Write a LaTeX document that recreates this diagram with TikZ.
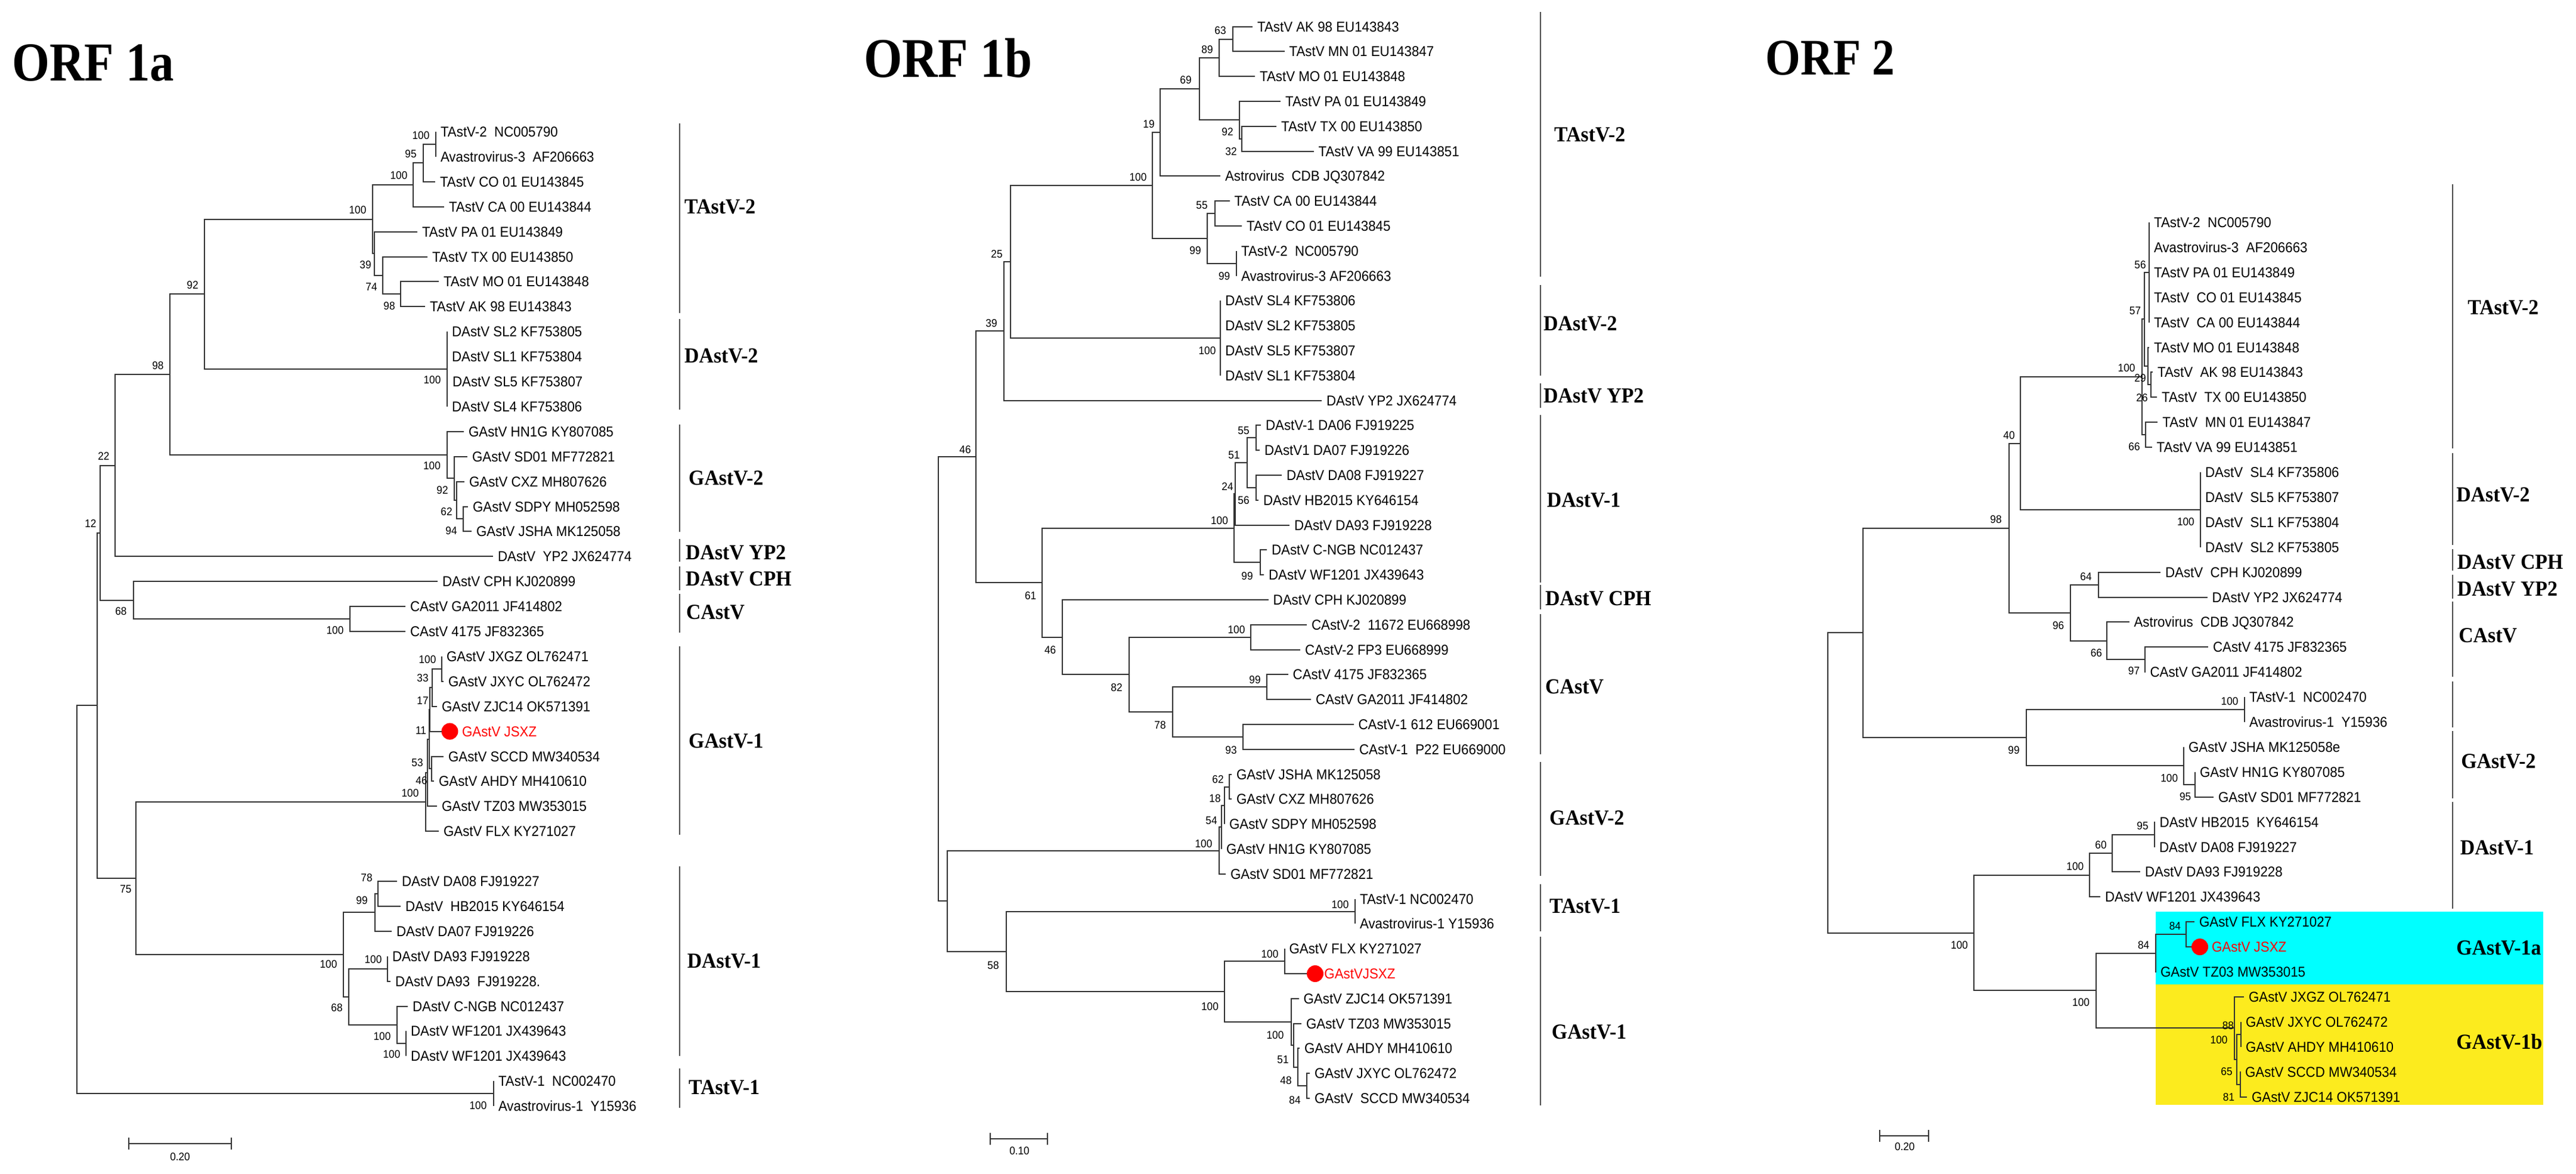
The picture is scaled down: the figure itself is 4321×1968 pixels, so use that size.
\documentclass[tikz,border=0pt]{standalone}
\usepackage{fontspec}
\newfontfamily\leaffam[FakeStretch=0.93]{Liberation Sans}
\newfontfamily\cladefam[FakeStretch=0.94]{Liberation Serif}
\newfontfamily\titlefam[FakeStretch=0.88]{Liberation Serif}
\newcommand\lffont{\leaffam\fontsize{24pt}{28pt}\selectfont}
\newcommand\bsfont{\leaffam\fontsize{18.5pt}{22pt}\selectfont}
\newcommand\clfont{\cladefam\bfseries\fontsize{36pt}{40pt}\selectfont}
\definecolor{cyanbox}{RGB}{0,255,255}
\definecolor{yellowbox}{RGB}{252,235,30}
\definecolor{dotred}{RGB}{255,0,0}
\begin{document}
\begin{tikzpicture}[x=1pt,y=-1pt,
  br/.style={line width=2pt, draw=black!80},
  cbar/.style={line width=2pt, draw=black!70},
  leaf/.style={anchor=west, inner xsep=8pt, inner ysep=0pt, outer sep=0pt, font=\lffont, text height=17pt, text depth=0pt},
  bs/.style={inner sep=0pt, outer sep=0pt, font=\bsfont, text height=13pt, text depth=0pt},
  clade/.style={anchor=west, inner sep=0pt, font=\clfont, text height=24pt, text depth=0pt},
  ttl/.style={anchor=base west, inner sep=0pt},
  reddot/.style={circle, fill=dotred, inner sep=0pt, outer sep=0pt, minimum size=28pt}]
\useasboundingbox (0,0) rectangle (4321,1968);
\fill[white] (0,0) rectangle (4321,1968);
% coloured boxes (ORF 2)
\fill[cyanbox] (3616,1529) rectangle (4266,1651);
\fill[yellowbox] (3616,1651) rectangle (4266,1853);
% titles
\node[ttl, font=\titlefam\bfseries\fontsize{92pt}{100pt}\selectfont] (t1) at (20,135) {ORF 1a};
\node[ttl, font=\titlefam\bfseries\fontsize{94pt}{100pt}\selectfont] (t2) at (1449,129.5) {ORF 1b};
\node[ttl, font=\titlefam\bfseries\fontsize{86pt}{100pt}\selectfont] (t3) at (2961.5,125) {ORF 2};

%================ ORF 1a =================
\foreach \n/\i/\b/\t in {
 La0/0/731/TAstV-2~~NC005790, La1/1/731/Avastrovirus-3~~AF206663,
 La2/2/730/TAstV CO 01 EU143845, La3/3/745/TAstV CA 00 EU143844,
 La4/4/700/TAstV PA 01 EU143849, La5/5/717/TAstV TX 00 EU143850,
 La6/6/736/TAstV MO 01 EU143848, La7/7/713/TAstV AK 98 EU143843,
 La8/8/750/DAstV SL2 KF753805, La9/9/750/DAstV SL1 KF753804,
 La10/10/751/DAstV SL5 KF753807, La11/11/750/DAstV SL4 KF753806,
 La12/12/778/GAstV HN1G KY807085, La13/13/784/GAstV SD01 MF772821,
 La14/14/779/GAstV CXZ MH807626, La15/15/785/GAstV SDPY MH052598,
 La16/16/791/GAstV JSHA MK125058, La17/17/827/DAstV~~YP2 JX624774,
 La18/18/734/DAstV CPH KJ020899, La19/19/680/CAstV GA2011 JF414802,
 La20/20/680/CAstV 4175 JF832365, La21/21/741/GAstV JXGZ OL762471,
 La22/22/744/GAstV JXYC OL762472, La23/23/733/GAstV ZJC14 OK571391,
 La25/25/744/GAstV SCCD MW340534, La26/26/728/GAstV AHDY MH410610,
 La27/27/733/GAstV TZ03 MW353015, La28/28/736/GAstV FLX KY271027,
 La30/30/666/DAstV DA08 FJ919227, La31/31/672/DAstV~~HB2015 KY646154,
 La32/32/657/DAstV DA07 FJ919226, La33/33/650/DAstV DA93 FJ919228,
 La34/34/655/DAstV DA93~~FJ919228., La35/35/684/DAstV C-NGB NC012437,
 La36/36/681/DAstV WF1201 JX439643, La37/37/681/DAstV WF1201 JX439643,
 La38/38/828/TAstV-1~~NC002470, La39/39/828/Avastrovirus-1~~Y15936}
 \node[leaf] (\n) at (\b,{221+41.9*\i}) {\t};
\node[reddot] (La24) at (754.5,1226.6) {};
\node[leaf, text=dotred] (La24t) at (767,1226.6) {GAstV JSXZ};

\foreach \n/\x/\y in {uA/731/241.95, uB/710/273.4, uC/693/310.05, uG/672/493.35,
 uF/642/461.9, uE/627.5/425.25, uD/624.5/367.65, uDv/750/619.05, uH/343/493.35,
 uM/777/870.45, uL/766/839.0, uJ/762/802.35, uGv/750/763.1, uI/285/628.2,
 uN/192.5/780.75, uCA/587/1038.05, uP/224/1006.6, uO/168/893.7,
 uS1/741/1121.85, uS2/725/1153.3, uS3/721/1189.95, uS5/724/1289.45,
 uS4/720/1239.7, uS6/717/1296.0, uS7/714/1345.1,
 uT1/634/1498.95, uT2/628.5/1530.4, uT5/650/1624.65, uT7/681/1750.35,
 uT6/666/1718.9, uT4/585/1671.8, uT3/576/1601.1, uR/228/1473.1,
 uQ/162.5/1183.4, uTV/828/1834.15, uRt/128.5/1508.8}
 \coordinate (\n) at (\x,\y);

\foreach \p/\c in {uA/La0, uA/La1, uB/uA, uB/La2, uC/uB, uC/La3, uG/La6, uG/La7,
 uF/La5, uF/uG, uE/La4, uE/uF, uD/uC, uD/uE, uDv/La8, uDv/La9, uDv/La10, uDv/La11,
 uH/uD, uH/uDv, uM/La15, uM/La16, uL/La14, uL/uM, uJ/La13, uJ/uL, uGv/La12, uGv/uJ,
 uI/uH, uI/uGv, uN/uI, uN/La17, uCA/La19, uCA/La20, uP/La18, uP/uCA, uO/uN, uO/uP,
 uS1/La21, uS1/La22, uS2/uS1, uS2/La23, uS3/uS2, uS3/La24, uS5/La25, uS5/La26,
 uS4/uS3, uS4/uS5, uS6/uS4, uS6/La27, uS7/uS6, uS7/La28,
 uT1/La30, uT1/La31, uT2/uT1, uT2/La32, uT5/La33, uT5/La34, uT7/La36, uT7/La37,
 uT6/La35, uT6/uT7, uT4/uT5, uT4/uT6, uT3/uT2, uT3/uT4, uR/uS7, uR/uT3,
 uQ/uO, uQ/uR, uTV/La38, uTV/La39, uRt/uQ, uRt/uTV}
 \draw[br] (\p) |- (\c);

\foreach \x/\y/\t [count=\k] in {706/227/100, 689/258/95, 669/294/100, 600/352/100,
 613/444/39, 623/481/74, 653/513/98, 323/478/92, 725/637/100, 265/613/98,
 724.5/781/100, 742/822/92, 749/858/62, 757/890/94, 174/765/22, 152/878/12,
 203/1025/68, 562/1057/100, 717/1106/100, 709/1137/33, 709/1175/17, 706/1225/11,
 700/1279/53, 707/1309/46, 688/1330/100, 211/1491/75, 615/1472/78, 607/1510/99,
 551/1617/100, 565/1690/68, 626/1609/100, 641/1738/100, 657/1768/100, 802/1854/100}
 \node[bs] (bA\k) at (\x,\y) {\t};

\foreach \a/\b in {207/525, 535/687, 712/892, 904/942, 950/990, 996/1061, 1084/1400, 1453/1771, 1792/1858}
 \draw[cbar] (1140,\a) -- (1140,\b);
\node[clade] (cA1) at (1148,346) {TAstV-2};
\node[clade] (cA2) at (1148,596) {DAstV-2};
\node[clade] (cA3) at (1155,801.5) {GAstV-2};
\node[clade] (cA4) at (1150,926) {DAstV YP2};
\node[clade] (cA5) at (1150,970.7) {DAstV CPH};
\node[clade] (cA6) at (1151,1026) {CAstV};
\node[clade] (cA7) at (1155,1242.4) {GAstV-1};
\node[clade] (cA8) at (1152.6,1611) {DAstV-1};
\node[clade] (cA9) at (1155,1823) {TAstV-1};

\draw[br] (215.6,1908) -- (215.6,1928) (215.6,1918) -- (388,1918) (388,1908) -- (388,1928);
\node[bs] (sA) at (302,1940) {0.20};

%================ ORF 1b =================
\foreach \n/\i/\b/\t in {
 Lb0/0/2101/TAstV AK 98 EU143843, Lb1/1/2154.5/TAstV MN 01 EU143847,
 Lb2/2/2105/TAstV MO 01 EU143848, Lb3/3/2148/TAstV PA 01 EU143849,
 Lb4/4/2141/TAstV TX 00 EU143850, Lb5/5/2203.6/TAstV VA 99 EU143851,
 Lb6/6/2047/Astrovirus~~CDB JQ307842, Lb7/7/2062.5/TAstV CA 00 EU143844,
 Lb8/8/2083/TAstV CO 01 EU143845, Lb9/9/2074/TAstV-2~~NC005790,
 Lb10/10/2074/Avastrovirus-3 AF206663, Lb11/11/2047.3/DAstV SL4 KF753806,
 Lb12/12/2047.3/DAstV SL2 KF753805, Lb13/13/2047.3/DAstV SL5 KF753807,
 Lb14/14/2047.3/DAstV SL1 KF753804, Lb15/15/2217/DAstV YP2 JX624774,
 Lb16/16/2115/DAstV-1 DA06 FJ919225, Lb17/17/2113/DAstV1 DA07 FJ919226,
 Lb18/18/2150/DAstV DA08 FJ919227, Lb19/19/2111/DAstV HB2015 KY646154,
 Lb20/20/2163/DAstV DA93 FJ919228, Lb21/21/2125/DAstV C-NGB NC012437,
 Lb22/22/2120/DAstV WF1201 JX439643, Lb23/23/2127.7/DAstV CPH KJ020899,
 Lb24/24/2192/CAstV-2~~11672 EU668998, Lb25/25/2181/CAstV-2 FP3 EU668999,
 Lb26/26/2160.7/CAstV 4175 JF832365, Lb27/27/2199/CAstV GA2011 JF414802,
 Lb28/28/2270.5/CAstV-1 612 EU669001, Lb29/29/2272/CAstV-1~~P22 EU669000,
 Lb30/30/2066/GAstV JSHA MK125058, Lb31/31/2066/GAstV CXZ MH807626,
 Lb32/32/2054/GAstV SDPY MH052598, Lb33/33/2049/GAstV HN1G KY807085,
 Lb34/34/2056/GAstV SD01 MF772821, Lb35/35/2273/TAstV-1 NC002470,
 Lb36/36/2273/Avastrovirus-1 Y15936, Lb37/37/2154.5/GAstV FLX KY271027,
 Lb39/39/2178.6/GAstV ZJC14 OK571391, Lb40/40/2183/GAstV TZ03 MW353015,
 Lb41/41/2180/GAstV AHDY MH410610, Lb42/42/2197/GAstV JXYC OL762472,
 Lb43/43/2197/GAstV~~SCCD MW340534}
 \node[leaf] (\n) at (\b,{44.6+41.8*\i}) {\t};
\node[reddot] (Lb38) at (2206,1633) {};
\node[leaf, text=dotred] (Lb38t) at (2213.4,1633) {GAstVJSXZ};

\foreach \n/\x/\y in {va1/2068/65.5, va2/2044.6/96.85, va4/2083/232.7, va3/2078.6/201.35,
 va5/2011.6/149.1, va6/1946.4/222.25, va7/2038.4/358.1, va8/2074/441.7, va9/2025/399.9,
 va10/1933/311.08, vb1/2047.3/567.1, va11/1694.6/439.09, va12/1684/555.35,
 ve1/2107/734.3, ve2/2107/817.9, ve3/2092/776.1, ve5/2072/828.35, ve4/2114/943.3,
 ve6/2070/885.83, vf3/2098/1068.7, vf5/2125/1152.3, vf6/2085/1235.9, vf4/1967/1194.1,
 vf2/1894/1131.4, vf1/1782/1068.7, vd1/1748/977.26, va13/1636.6/766.3,
 vi1/2062/1319.5, vi2/2054/1350.85, vi3/2049/1387.43, vi4/2045/1426.6,
 vj1/2273/1528.5, vk2/2154.5/1612.1, vk6/2192/1821.1, vk5/2177/1789.75,
 vk4/2170/1753.18, vk3/2166/1713.99, vk1/2053.6/1663.05, vg3/1687.5/1595.78,
 vg1/1589/1511.19, vr1/1574/1138.75}
 \coordinate (\n) at (\x,\y);

\foreach \p/\c in {va1/Lb0, va1/Lb1, va2/va1, va2/Lb2, va4/Lb4, va4/Lb5, va3/Lb3, va3/va4,
 va5/va2, va5/va3, va6/va5, va6/Lb6, va7/Lb7, va7/Lb8, va8/Lb9, va8/Lb10, va9/va7, va9/va8,
 va10/va6, va10/va9, vb1/Lb11, vb1/Lb12, vb1/Lb13, vb1/Lb14, va11/va10, va11/vb1,
 va12/va11, va12/Lb15, ve1/Lb16, ve1/Lb17, ve2/Lb18, ve2/Lb19, ve3/ve1, ve3/ve2,
 ve5/ve3, ve5/Lb20, ve4/Lb21, ve4/Lb22, ve6/ve5, ve6/ve4, vf3/Lb24, vf3/Lb25,
 vf5/Lb26, vf5/Lb27, vf6/Lb28, vf6/Lb29, vf4/vf5, vf4/vf6, vf2/vf3, vf2/vf4,
 vf1/Lb23, vf1/vf2, vd1/ve6, vd1/vf1, va13/va12, va13/vd1, vi1/Lb30, vi1/Lb31,
 vi2/vi1, vi2/Lb32, vi3/vi2, vi3/Lb33, vi4/vi3, vi4/Lb34, vj1/Lb35, vj1/Lb36,
 vk2/Lb37, vk2/Lb38, vk6/Lb42, vk6/Lb43, vk5/Lb41, vk5/vk6, vk4/Lb40, vk4/vk5,
 vk3/Lb39, vk3/vk4, vk1/vk2, vk1/vk3, vg3/vj1, vg3/vk1, vg1/vi4, vg1/vg3,
 vr1/va13, vr1/vg1}
 \draw[br] (\p) |- (\c);

\foreach \x/\y/\t [count=\k] in {2047/51/63, 2025/82.6/89, 1989/134/69, 2059/221/92,
 2065/253.6/32, 1927/207.6/19, 1909/297/100, 2016/343.75/55, 2005/419.6/99,
 2053.6/463.4/99, 2025/588/100, 1672/426/25, 1663/542/39, 1619/753.7/46,
 2086/722.4/55, 2070/762.6/51, 2059/816/24, 2086/839/56, 2045.5/873/100,
 2092/965.7/99, 1728.6/999/61, 2074/1056/100, 1761.6/1090/46, 2105/1140/99,
 1873/1153/82, 1946/1216/78, 2065/1258/93, 2043/1307/62, 2038/1338.5/18,
 2032/1375.5/54, 2019/1415.4/100, 2248/1517/100, 2130/1600/100, 1666/1619/58,
 2029.5/1687.6/100, 2139/1736/100, 2152/1777/51, 2157/1812/48, 2172/1844.7/84}
 \node[bs] (bB\k) at (\x,\y) {\t};

\foreach \a/\b in {20/464, 478/629.5, 643/684, 695.6/977, 981/1021.5, 1030/1265, 1278/1469, 1483/1561.6, 1571/1854}
 \draw[cbar] (2584,\a) -- (2584,\b);
\node[clade] (cB1) at (2607,225.4) {TAstV-2};
\node[clade] (cB2) at (2589,542.4) {DAstV-2};
\node[clade] (cB3) at (2589,663) {DAstV YP2};
\node[clade] (cB4) at (2594.6,838.5) {DAstV-1};
\node[clade] (cB5) at (2592,1003.6) {DAstV CPH};
\node[clade] (cB6) at (2592,1151) {CAstV};
\node[clade] (cB7) at (2599,1371.6) {GAstV-2};
\node[clade] (cB8) at (2599,1519) {TAstV-1};
\node[clade] (cB9) at (2602.7,1730) {GAstV-1};

\draw[br] (1660.7,1900) -- (1660.7,1920) (1660.7,1910) -- (1757,1910) (1757,1900) -- (1757,1920);
\node[bs] (sB) at (1710,1930) {0.10};

%================ ORF 2 =================
\foreach \n/\i/\b/\t in {
 Lc0/0/3605/TAstV-2~~NC005790, Lc1/1/3605/Avastrovirus-3~~AF206663,
 Lc2/2/3605/TAstV PA 01 EU143849, Lc3/3/3605/TAstV~~CO 01 EU143845,
 Lc4/4/3605/TAstV~~CA 00 EU143844, Lc5/5/3605/TAstV MO 01 EU143848,
 Lc6/6/3611/TAstV~~AK 98 EU143843, Lc7/7/3618/TAstV~~TX 00 EU143850,
 Lc8/8/3619.4/TAstV~~MN 01 EU143847, Lc9/9/3609.6/TAstV VA 99 EU143851,
 Lc10/10/3691/DAstV~~SL4 KF735806, Lc11/11/3691/DAstV~~SL5 KF753807,
 Lc12/12/3691/DAstV~~SL1 KF753804, Lc13/13/3691/DAstV~~SL2 KF753805,
 Lc14/14/3624/DAstV~~CPH KJ020899, Lc15/15/3702.7/DAstV YP2 JX624774,
 Lc16/16/3571.5/Astrovirus~~CDB JQ307842, Lc17/17/3704/CAstV 4175 JF832365,
 Lc18/18/3598.5/CAstV GA2011 JF414802, Lc19/19/3765/TAstV-1~~NC002470,
 Lc20/20/3765/Avastrovirus-1~~Y15936, Lc21/21/3663/GAstV JSHA MK125058e,
 Lc22/22/3682/GAstV HN1G KY807085, Lc23/23/3713/GAstV SD01 MF772821,
 Lc24/24/3614.6/DAstV HB2015~~KY646154, Lc25/25/3614/DAstV DA08 FJ919227,
 Lc26/26/3590/DAstV DA93 FJ919228, Lc27/27/3523/DAstV WF1201 JX439643,
 Lc28/28/3681/GAstV FLX KY271027, Lc30/30/3616/GAstV TZ03 MW353015,
 Lc31/31/3764/GAstV JXGZ OL762471, Lc32/32/3759/GAstV JXYC OL762472,
 Lc33/33/3759/GAstV AHDY MH410610, Lc34/34/3758/GAstV SCCD MW340534,
 Lc35/35/3769/GAstV ZJC14 OK571391}
 \node[leaf] (\n) at (\b,{373+41.9*\i}) {\t};
\node[reddot] (Lc29) at (3690,1588.1) {};
\node[leaf, text=dotred] (Lc29t) at (3702,1588.1) {GAstV JSXZ};

\foreach \n/\x/\y in {wV/3605/456.8, wN26/3607.5/645.35, wN29/3603/613.93, wN57/3597/535.36,
 wN66/3599/729.15, wCR/3592.6/632.25, wDv/3691/854.85, wN40/3389/743.55,
 wN64/3520/980.55, wN97/3598/1106.25, wN66b/3534/1074.83, wN96/3473/1027.69,
 wN98/3369.7/885.62, wTV/3765/1190.05, wN95/3682/1315.75, wG2/3663/1284.33,
 wN99/3398.5/1237.19, wN3/3125/1061.4, wD95/3614/1399.55, wD60/3543.4/1430.98,
 wD100/3505/1467.64, wG84a/3667.4/1567.15, wG84b/3615.7/1598.58, wQ88/3759/1734.75,
 wQ81/3757.5/1818.55, wQ65/3751.7/1776.65, wQ100/3747.7/1724.28, wG100/3516.4/1661.43,
 wN100/3311/1564.53, wR/3066/1312.97}
 \coordinate (\n) at (\x,\y);

\foreach \p/\c in {wV/Lc0, wV/Lc1, wV/Lc2, wV/Lc3, wV/Lc4, wN26/Lc6, wN26/Lc7,
 wN29/Lc5, wN29/wN26, wN57/wV, wN57/wN29, wN66/Lc8, wN66/Lc9, wCR/wN57, wCR/wN66,
 wDv/Lc10, wDv/Lc11, wDv/Lc12, wDv/Lc13, wN40/wCR, wN40/wDv, wN64/Lc14, wN64/Lc15,
 wN97/Lc17, wN97/Lc18, wN66b/Lc16, wN66b/wN97, wN96/wN64, wN96/wN66b,
 wN98/wN40, wN98/wN96, wTV/Lc19, wTV/Lc20, wN95/Lc22, wN95/Lc23, wG2/Lc21, wG2/wN95,
 wN99/wTV, wN99/wG2, wN3/wN98, wN3/wN99, wD95/Lc24, wD95/Lc25, wD60/wD95, wD60/Lc26,
 wD100/wD60, wD100/Lc27, wG84a/Lc28, wG84a/Lc29, wG84b/wG84a, wG84b/Lc30,
 wQ88/Lc32, wQ88/Lc33, wQ81/Lc34, wQ81/Lc35, wQ65/wQ88, wQ65/wQ81,
 wQ100/Lc31, wQ100/wQ65, wG100/wG84b, wG100/wQ100, wN100/wD100, wN100/wG100,
 wR/wN3, wR/wN100}
 \draw[br] (\p) |- (\c);

\foreach \x/\y/\t [count=\k] in {3590/443.7/56, 3581.5/521/57, 3567/617/100, 3590/634/29,
 3593/667/26, 3580/749/66, 3666.4/875.4/100, 3370/730/40, 3348/871/98, 3499/967/64,
 3452.7/1049/96, 3516.4/1095/66, 3579.5/1125.4/97, 3740/1176/100, 3378/1258/99,
 3638.7/1304.5/100, 3665.6/1336/95, 3594/1385/95, 3524/1416.5/60, 3480.8/1452.6/100,
 3286.6/1584.8/100, 3648.4/1553/84, 3595.6/1584.6/84, 3490.5/1681/100,
 3737.4/1719.6/88, 3722/1744/100, 3735/1797/65, 3738.5/1840/81}
 \node[bs] (bC\k) at (\x,\y) {\t};

\foreach \a/\b in {309/752, 760/914, 921/957, 964/1003.6, 1009/1135, 1142.6/1220, 1226/1339, 1344.7/1524}
 \draw[cbar] (4114,\a) -- (4114,\b);
\node[clade] (cC1) at (4139,515) {TAstV-2};
\node[clade] (cC2) at (4120,829.8) {DAstV-2};
\node[clade] (cC3) at (4121.6,942) {DAstV CPH};
\node[clade] (cC4) at (4121.6,987.5) {DAstV YP2};
\node[clade] (cC5) at (4124,1065) {CAstV};
\node[clade] (cC6) at (4128,1276) {GAstV-2};
\node[clade] (cC7) at (4126.6,1421) {DAstV-1};
\node[clade] (cC8) at (4120,1589) {GAstV-1a};
\node[clade] (cC9) at (4120,1747) {GAstV-1b};

\draw[br] (3152.8,1895) -- (3152.8,1915) (3152.8,1905) -- (3235,1905) (3235,1895) -- (3235,1915);
\node[bs] (sC) at (3195,1923) {0.20};
\end{tikzpicture}
\end{document}
